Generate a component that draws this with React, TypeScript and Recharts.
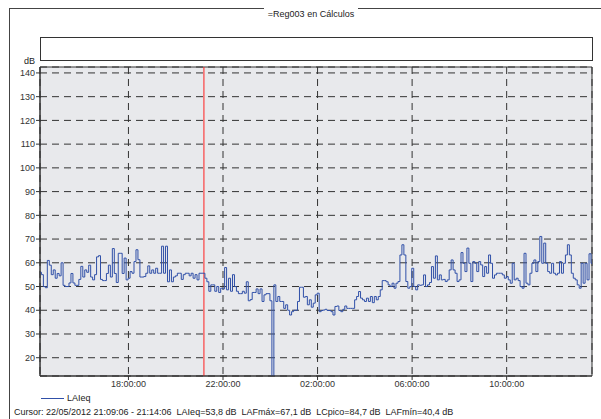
import React from 'react';
import { LineChart, Line, XAxis, YAxis, CartesianGrid, ReferenceLine, ReferenceArea } from 'recharts';

const title = '=Reg003 en Cálculos';
const seriesName = 'LAIeq';
const yUnit = 'dB';
const cursorText =
  'Cursor: 22/05/2012 21:09:06 - 21:14:06  LAIeq=53,8 dB  LAFmáx=67,1 dB  LCpico=84,7 dB  LAFmín=40,4 dB';

// sampling: first sample 14:14:06, every 5 minutes (minutes since 00:00 of first day)
const startMinute = 854.1;
const stepMinutes = 5;

const laeq = [
  56, 55, 50, 49.5, 61, 59, 55, 57, 53.5, 55.5,
  54.5, 60, 50.5, 50, 50, 51.5, 55.5, 51.5, 50.5, 50.5,
  53, 58.5, 54, 57, 56, 59, 54, 52.8, 55, 62.5,
  63, 53, 52.5, 52.5, 55.5, 59, 54, 66, 55.5, 51.7,
  64, 64, 55.5, 62, 52.8, 53.5, 56.3, 55.6, 60.5, 65.5,
  61.3, 54, 54, 54.2, 55.6, 58.7, 55.6, 57, 55.6, 57.7,
  55.6, 55.6, 67, 55.6, 67, 52, 57, 52, 54, 54.5,
  55.6, 55.6, 53, 55, 55.6, 55.6, 54.5, 55.6, 53.5, 55,
  52.8, 55.6, 55.6, 55.6, 53.5, 52, 48, 50.7, 50.7, 48,
  50, 47.5, 49.3, 49, 58, 48.6, 53.5, 48, 55, 50,
  48, 47, 47, 48, 47.2, 52, 44, 44.5, 47.5, 47.5,
  49, 47, 49, 43.7, 46.5, 47, 47, 44, 0, 50.7,
  43.7, 45.8, 43.7, 43.7, 40.8, 42.3, 40, 38, 39.4, 40,
  40, 43.7, 49.7, 49.7, 45.5, 45.8, 42.3, 44.4, 41.3, 43,
  46.5, 47.2, 39.4, 39.9, 40.1, 40.4, 39.9, 39.9, 39.4, 38,
  41.6, 41.8, 39.9, 39.4, 40.4, 41.8, 40.8, 40.8, 40.8, 40.8,
  44.4, 45.8, 47.9, 45.1, 44.4, 43.7, 45.1, 43.7, 45.8, 43.2,
  45.8, 44.4, 45.8, 48.6, 52.5, 52.5, 52, 50.7, 50, 51.4,
  49.3, 51.4, 52.1, 63.3, 67.6, 63.3, 52.1, 49.3, 50, 57.7,
  50, 48.6, 50.7, 50.5, 50.7, 54.9, 50, 50.7, 51.7, 58.4,
  53.5, 62.9, 52.8, 54.9, 52.8, 53, 52.1, 52.8, 57, 61.2,
  57, 55.6, 52.1, 52.8, 64.3, 59.8, 56.3, 66.2, 59.8, 52.1,
  60.5, 59.8, 56.3, 60.5, 59.1, 54.2, 58.4, 55.6, 63.3, 59.8,
  53.5, 54.9, 55.6, 55.6, 55.6, 54.9, 53.5, 54.2, 52.8, 51.4,
  59.8, 52.8, 53.5, 52.5, 50, 49.3, 64, 51.4, 50.7, 55.6,
  59.8, 61.2, 56.3, 60.5, 71.1, 59.8, 68.3, 59.8, 56.3, 55.6,
  59.8, 55.6, 54.9, 55.6, 60.5, 55.6, 59.8, 63.3, 67.6, 63.3,
  55.6, 53.5, 52.8, 50.7, 49.3, 59.8, 51.4, 59.8, 52.8, 63.8,
  59.8, 55.6,
];

const xTicks = [1080, 1320, 1560, 1800, 2040];
const xTickLabels = ['18:00:00', '22:00:00', '02:00:00', '06:00:00', '10:00:00'];
const yTicks = [20, 30, 40, 50, 60, 70, 80, 90, 100, 110, 120, 130, 140];
const xDomain: [number, number] = [855.5, 2256.6];
const yDomain: [number, number] = [12.3, 142.5];
const cursorMinute = 1271.6;

const data = laeq.map((v, i) => ({ t: startMinute + i * stepMinutes, v }));

const lineColor = '#3050a8';
const font = '"Liberation Sans", Arial, sans-serif';

export default function App() {
  return (
    <div
      style={{
        position: 'fixed',
        left: 0,
        top: 0,
        width: 601,
        height: 419,
        overflow: 'hidden',
        background: '#fff',
        fontFamily: font,
        color: '#222',
      }}
    >
      <div
        style={{
          position: 'absolute',
          left: 9,
          top: 8,
          width: 700,
          height: 600,
          border: '1px solid #444',
        }}
      />
      <div
        style={{
          position: 'absolute',
          left: 264,
          top: 8,
          width: 94,
          height: 12,
          lineHeight: '12px',
          fontSize: 9,
          textAlign: 'center',
          background: '#fff',
        }}
      >
        {title}
      </div>
      <div
        style={{
          position: 'absolute',
          left: 40,
          top: 37,
          width: 551,
          height: 22,
          border: '1px solid #333',
          background: '#fff',
        }}
      />
      <div style={{ position: 'absolute', left: 24, top: 56, fontSize: 9, lineHeight: '10px' }}>{yUnit}</div>
      <div style={{ position: 'absolute', left: 0, top: 0 }}>
        <LineChart width={601} height={419} data={data} margin={{ top: 67, right: 9, bottom: 23, left: 0 }}>
          <CartesianGrid stroke="#333" strokeDasharray="7 5" fill="#e8e9ec" />
          <XAxis
            dataKey="t"
            type="number"
            domain={xDomain}
            allowDataOverflow
            ticks={xTicks}
            tickFormatter={(v: number) => xTickLabels[xTicks.indexOf(v)] ?? ''}
            height={20}
            tickSize={4}
            tickMargin={1}
            tick={{ fontSize: 9, fill: '#333' }}
            stroke="#333"
          />
          <YAxis
            type="number"
            domain={yDomain}
            allowDataOverflow
            ticks={yTicks}
            width={40}
            tickSize={4}
            tickMargin={1}
            tick={{ fontSize: 9, fill: '#333' }}
            stroke="#333"
          />
          <ReferenceLine x={cursorMinute} stroke="#ff2020" strokeWidth={1} />
          <Line
            type="stepAfter"
            dataKey="v"
            name={seriesName}
            stroke={lineColor}
            strokeWidth={1}
            dot={false}
            activeDot={false}
            isAnimationActive={false}
          />
          <ReferenceArea
            x1={xDomain[0]}
            x2={xDomain[1]}
            y1={yDomain[0]}
            y2={yDomain[1]}
            fill="none"
            stroke="#333"
            strokeWidth={1}
          />
        </LineChart>
      </div>
      <div style={{ position: 'absolute', left: 41, top: 398, width: 23, height: 1, background: lineColor }} />
      <div style={{ position: 'absolute', left: 67, top: 393, fontSize: 9, lineHeight: '10px' }}>{seriesName}</div>
      <div
        style={{
          position: 'absolute',
          left: 14,
          top: 407,
          fontSize: 9,
          lineHeight: '10px',
          whiteSpace: 'pre',
        }}
      >
        {cursorText}
      </div>
    </div>
  );
}
